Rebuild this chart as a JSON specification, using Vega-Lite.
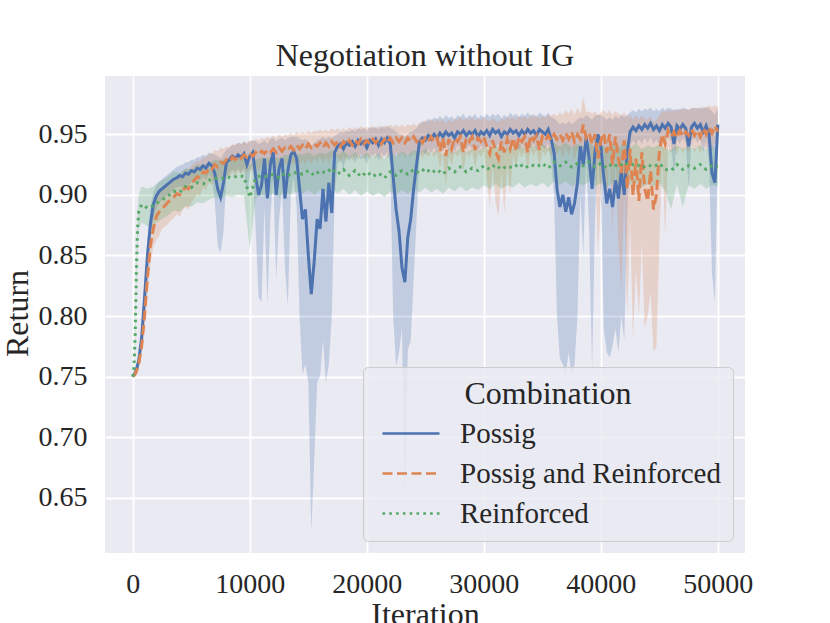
{
  "$schema": "https://vega.github.io/schema/vega-lite/v6.json",
  "width": 640,
  "height": 477,
  "autosize": {"type": "none"},
  "padding": {"left": 105, "top": 76, "right": 85, "bottom": 70},
  "background": "white",
  "title": {
    "text": "Negotiation without IG",
    "font": "Liberation Serif",
    "fontSize": 32,
    "fontWeight": "normal",
    "color": "#262626",
    "offset": 3
  },
  "data": {
    "values": [
      {"c":"Possig","x":0,"y":0.750,"lo":0.749,"hi":0.751},
      {"c":"Possig","x":250,"y":0.754,"lo":0.751,"hi":0.757},
      {"c":"Possig","x":500,"y":0.763,"lo":0.758,"hi":0.768},
      {"c":"Possig","x":750,"y":0.782,"lo":0.775,"hi":0.790},
      {"c":"Possig","x":1000,"y":0.815,"lo":0.805,"hi":0.826},
      {"c":"Possig","x":1250,"y":0.850,"lo":0.838,"hi":0.862},
      {"c":"Possig","x":1500,"y":0.876,"lo":0.865,"hi":0.888},
      {"c":"Possig","x":1750,"y":0.892,"lo":0.880,"hi":0.902},
      {"c":"Possig","x":2000,"y":0.899,"lo":0.888,"hi":0.908},
      {"c":"Possig","x":2250,"y":0.903,"lo":0.893,"hi":0.911},
      {"c":"Possig","x":2500,"y":0.905,"lo":0.896,"hi":0.913},
      {"c":"Possig","x":2750,"y":0.907,"lo":0.898,"hi":0.915},
      {"c":"Possig","x":3000,"y":0.909,"lo":0.900,"hi":0.917},
      {"c":"Possig","x":3250,"y":0.911,"lo":0.902,"hi":0.919},
      {"c":"Possig","x":3500,"y":0.913,"lo":0.905,"hi":0.921},
      {"c":"Possig","x":3750,"y":0.914,"lo":0.906,"hi":0.923},
      {"c":"Possig","x":4000,"y":0.916,"lo":0.907,"hi":0.924},
      {"c":"Possig","x":4250,"y":0.915,"lo":0.906,"hi":0.925},
      {"c":"Possig","x":4500,"y":0.918,"lo":0.909,"hi":0.927},
      {"c":"Possig","x":4750,"y":0.917,"lo":0.908,"hi":0.927},
      {"c":"Possig","x":5000,"y":0.920,"lo":0.911,"hi":0.929},
      {"c":"Possig","x":5250,"y":0.919,"lo":0.910,"hi":0.929},
      {"c":"Possig","x":5500,"y":0.922,"lo":0.913,"hi":0.931},
      {"c":"Possig","x":5750,"y":0.921,"lo":0.911,"hi":0.931},
      {"c":"Possig","x":6000,"y":0.924,"lo":0.915,"hi":0.933},
      {"c":"Possig","x":6250,"y":0.922,"lo":0.912,"hi":0.932},
      {"c":"Possig","x":6500,"y":0.926,"lo":0.917,"hi":0.935},
      {"c":"Possig","x":6750,"y":0.924,"lo":0.914,"hi":0.934},
      {"c":"Possig","x":7000,"y":0.918,"lo":0.895,"hi":0.933},
      {"c":"Possig","x":7250,"y":0.905,"lo":0.858,"hi":0.932},
      {"c":"Possig","x":7500,"y":0.898,"lo":0.852,"hi":0.930},
      {"c":"Possig","x":7750,"y":0.910,"lo":0.870,"hi":0.934},
      {"c":"Possig","x":8000,"y":0.927,"lo":0.915,"hi":0.937},
      {"c":"Possig","x":8250,"y":0.929,"lo":0.918,"hi":0.939},
      {"c":"Possig","x":8500,"y":0.932,"lo":0.921,"hi":0.941},
      {"c":"Possig","x":8750,"y":0.930,"lo":0.919,"hi":0.941},
      {"c":"Possig","x":9000,"y":0.933,"lo":0.922,"hi":0.943},
      {"c":"Possig","x":9250,"y":0.931,"lo":0.918,"hi":0.942},
      {"c":"Possig","x":9500,"y":0.934,"lo":0.922,"hi":0.944},
      {"c":"Possig","x":9750,"y":0.925,"lo":0.900,"hi":0.942},
      {"c":"Possig","x":10000,"y":0.932,"lo":0.918,"hi":0.944},
      {"c":"Possig","x":10250,"y":0.935,"lo":0.924,"hi":0.945},
      {"c":"Possig","x":10500,"y":0.915,"lo":0.870,"hi":0.944},
      {"c":"Possig","x":10750,"y":0.900,"lo":0.815,"hi":0.942},
      {"c":"Possig","x":11000,"y":0.908,"lo":0.812,"hi":0.943},
      {"c":"Possig","x":11250,"y":0.930,"lo":0.890,"hi":0.945},
      {"c":"Possig","x":11500,"y":0.897,"lo":0.810,"hi":0.942},
      {"c":"Possig","x":11750,"y":0.925,"lo":0.880,"hi":0.946},
      {"c":"Possig","x":12000,"y":0.935,"lo":0.915,"hi":0.947},
      {"c":"Possig","x":12250,"y":0.900,"lo":0.830,"hi":0.944},
      {"c":"Possig","x":12500,"y":0.922,"lo":0.880,"hi":0.946},
      {"c":"Possig","x":12750,"y":0.930,"lo":0.905,"hi":0.947},
      {"c":"Possig","x":13000,"y":0.897,"lo":0.840,"hi":0.945},
      {"c":"Possig","x":13250,"y":0.920,"lo":0.808,"hi":0.947},
      {"c":"Possig","x":13500,"y":0.933,"lo":0.900,"hi":0.948},
      {"c":"Possig","x":13750,"y":0.936,"lo":0.915,"hi":0.948},
      {"c":"Possig","x":14000,"y":0.930,"lo":0.890,"hi":0.948},
      {"c":"Possig","x":14250,"y":0.905,"lo":0.800,"hi":0.946},
      {"c":"Possig","x":14500,"y":0.880,"lo":0.752,"hi":0.945},
      {"c":"Possig","x":14750,"y":0.888,"lo":0.760,"hi":0.946},
      {"c":"Possig","x":15000,"y":0.850,"lo":0.745,"hi":0.944},
      {"c":"Possig","x":15250,"y":0.818,"lo":0.622,"hi":0.940},
      {"c":"Possig","x":15500,"y":0.845,"lo":0.680,"hi":0.943},
      {"c":"Possig","x":15750,"y":0.880,"lo":0.745,"hi":0.945},
      {"c":"Possig","x":16000,"y":0.872,"lo":0.750,"hi":0.946},
      {"c":"Possig","x":16250,"y":0.905,"lo":0.780,"hi":0.948},
      {"c":"Possig","x":16500,"y":0.878,"lo":0.745,"hi":0.946},
      {"c":"Possig","x":16750,"y":0.910,"lo":0.760,"hi":0.948},
      {"c":"Possig","x":17000,"y":0.885,"lo":0.800,"hi":0.947},
      {"c":"Possig","x":17250,"y":0.935,"lo":0.900,"hi":0.949},
      {"c":"Possig","x":17500,"y":0.940,"lo":0.925,"hi":0.950},
      {"c":"Possig","x":17750,"y":0.942,"lo":0.930,"hi":0.952},
      {"c":"Possig","x":18000,"y":0.938,"lo":0.922,"hi":0.951},
      {"c":"Possig","x":18250,"y":0.943,"lo":0.932,"hi":0.953},
      {"c":"Possig","x":18500,"y":0.941,"lo":0.928,"hi":0.952},
      {"c":"Possig","x":18750,"y":0.944,"lo":0.933,"hi":0.954},
      {"c":"Possig","x":19000,"y":0.940,"lo":0.926,"hi":0.952},
      {"c":"Possig","x":19250,"y":0.945,"lo":0.934,"hi":0.955},
      {"c":"Possig","x":19500,"y":0.942,"lo":0.929,"hi":0.954},
      {"c":"Possig","x":19750,"y":0.944,"lo":0.932,"hi":0.955},
      {"c":"Possig","x":20000,"y":0.939,"lo":0.925,"hi":0.953},
      {"c":"Possig","x":20250,"y":0.945,"lo":0.934,"hi":0.956},
      {"c":"Possig","x":20500,"y":0.943,"lo":0.931,"hi":0.955},
      {"c":"Possig","x":20750,"y":0.946,"lo":0.935,"hi":0.956},
      {"c":"Possig","x":21000,"y":0.941,"lo":0.928,"hi":0.954},
      {"c":"Possig","x":21250,"y":0.946,"lo":0.935,"hi":0.957},
      {"c":"Possig","x":21500,"y":0.943,"lo":0.931,"hi":0.955},
      {"c":"Possig","x":21750,"y":0.947,"lo":0.936,"hi":0.957},
      {"c":"Possig","x":22000,"y":0.942,"lo":0.925,"hi":0.955},
      {"c":"Possig","x":22250,"y":0.915,"lo":0.800,"hi":0.954},
      {"c":"Possig","x":22500,"y":0.888,"lo":0.758,"hi":0.952},
      {"c":"Possig","x":22750,"y":0.870,"lo":0.770,"hi":0.950},
      {"c":"Possig","x":23000,"y":0.840,"lo":0.790,"hi":0.950},
      {"c":"Possig","x":23250,"y":0.828,"lo":0.646,"hi":0.948},
      {"c":"Possig","x":23500,"y":0.865,"lo":0.772,"hi":0.950},
      {"c":"Possig","x":23750,"y":0.880,"lo":0.780,"hi":0.952},
      {"c":"Possig","x":24000,"y":0.905,"lo":0.830,"hi":0.953},
      {"c":"Possig","x":24250,"y":0.925,"lo":0.880,"hi":0.955},
      {"c":"Possig","x":24500,"y":0.944,"lo":0.933,"hi":0.958},
      {"c":"Possig","x":24750,"y":0.947,"lo":0.936,"hi":0.961},
      {"c":"Possig","x":25000,"y":0.945,"lo":0.933,"hi":0.960},
      {"c":"Possig","x":25250,"y":0.949,"lo":0.938,"hi":0.963},
      {"c":"Possig","x":25500,"y":0.946,"lo":0.934,"hi":0.961},
      {"c":"Possig","x":25750,"y":0.950,"lo":0.939,"hi":0.964},
      {"c":"Possig","x":26000,"y":0.947,"lo":0.935,"hi":0.962},
      {"c":"Possig","x":26250,"y":0.951,"lo":0.940,"hi":0.965},
      {"c":"Possig","x":26500,"y":0.948,"lo":0.936,"hi":0.962},
      {"c":"Possig","x":26750,"y":0.952,"lo":0.941,"hi":0.966},
      {"c":"Possig","x":27000,"y":0.949,"lo":0.937,"hi":0.963},
      {"c":"Possig","x":27250,"y":0.951,"lo":0.940,"hi":0.965},
      {"c":"Possig","x":27500,"y":0.947,"lo":0.935,"hi":0.962},
      {"c":"Possig","x":27750,"y":0.952,"lo":0.941,"hi":0.966},
      {"c":"Possig","x":28000,"y":0.950,"lo":0.938,"hi":0.964},
      {"c":"Possig","x":28250,"y":0.953,"lo":0.942,"hi":0.967},
      {"c":"Possig","x":28500,"y":0.949,"lo":0.937,"hi":0.963},
      {"c":"Possig","x":28750,"y":0.952,"lo":0.941,"hi":0.966},
      {"c":"Possig","x":29000,"y":0.950,"lo":0.938,"hi":0.964},
      {"c":"Possig","x":29250,"y":0.953,"lo":0.942,"hi":0.967},
      {"c":"Possig","x":29500,"y":0.948,"lo":0.936,"hi":0.963},
      {"c":"Possig","x":29750,"y":0.952,"lo":0.941,"hi":0.966},
      {"c":"Possig","x":30000,"y":0.950,"lo":0.938,"hi":0.964},
      {"c":"Possig","x":30250,"y":0.953,"lo":0.942,"hi":0.967},
      {"c":"Possig","x":30500,"y":0.949,"lo":0.937,"hi":0.964},
      {"c":"Possig","x":30750,"y":0.954,"lo":0.943,"hi":0.967},
      {"c":"Possig","x":31000,"y":0.951,"lo":0.939,"hi":0.965},
      {"c":"Possig","x":31250,"y":0.953,"lo":0.942,"hi":0.967},
      {"c":"Possig","x":31500,"y":0.948,"lo":0.936,"hi":0.963},
      {"c":"Possig","x":31750,"y":0.952,"lo":0.941,"hi":0.966},
      {"c":"Possig","x":32000,"y":0.950,"lo":0.938,"hi":0.964},
      {"c":"Possig","x":32250,"y":0.954,"lo":0.943,"hi":0.968},
      {"c":"Possig","x":32500,"y":0.951,"lo":0.939,"hi":0.965},
      {"c":"Possig","x":32750,"y":0.953,"lo":0.942,"hi":0.967},
      {"c":"Possig","x":33000,"y":0.949,"lo":0.937,"hi":0.964},
      {"c":"Possig","x":33250,"y":0.953,"lo":0.942,"hi":0.967},
      {"c":"Possig","x":33500,"y":0.950,"lo":0.938,"hi":0.965},
      {"c":"Possig","x":33750,"y":0.954,"lo":0.943,"hi":0.968},
      {"c":"Possig","x":34000,"y":0.951,"lo":0.939,"hi":0.965},
      {"c":"Possig","x":34250,"y":0.953,"lo":0.942,"hi":0.967},
      {"c":"Possig","x":34500,"y":0.949,"lo":0.937,"hi":0.964},
      {"c":"Possig","x":34750,"y":0.954,"lo":0.943,"hi":0.968},
      {"c":"Possig","x":35000,"y":0.952,"lo":0.940,"hi":0.966},
      {"c":"Possig","x":35250,"y":0.950,"lo":0.938,"hi":0.965},
      {"c":"Possig","x":35500,"y":0.954,"lo":0.943,"hi":0.968},
      {"c":"Possig","x":35750,"y":0.946,"lo":0.928,"hi":0.964},
      {"c":"Possig","x":36000,"y":0.935,"lo":0.900,"hi":0.963},
      {"c":"Possig","x":36250,"y":0.905,"lo":0.800,"hi":0.961},
      {"c":"Possig","x":36500,"y":0.890,"lo":0.765,"hi":0.958},
      {"c":"Possig","x":36750,"y":0.900,"lo":0.760,"hi":0.960},
      {"c":"Possig","x":37000,"y":0.886,"lo":0.752,"hi":0.958},
      {"c":"Possig","x":37250,"y":0.898,"lo":0.770,"hi":0.961},
      {"c":"Possig","x":37500,"y":0.884,"lo":0.750,"hi":0.958},
      {"c":"Possig","x":37750,"y":0.893,"lo":0.760,"hi":0.960},
      {"c":"Possig","x":38000,"y":0.910,"lo":0.800,"hi":0.962},
      {"c":"Possig","x":38250,"y":0.940,"lo":0.900,"hi":0.964},
      {"c":"Possig","x":38500,"y":0.925,"lo":0.850,"hi":0.963},
      {"c":"Possig","x":38750,"y":0.948,"lo":0.930,"hi":0.966},
      {"c":"Possig","x":39000,"y":0.930,"lo":0.870,"hi":0.964},
      {"c":"Possig","x":39250,"y":0.905,"lo":0.755,"hi":0.962},
      {"c":"Possig","x":39500,"y":0.935,"lo":0.880,"hi":0.965},
      {"c":"Possig","x":39750,"y":0.950,"lo":0.935,"hi":0.966},
      {"c":"Possig","x":40000,"y":0.940,"lo":0.900,"hi":0.966},
      {"c":"Possig","x":40250,"y":0.915,"lo":0.790,"hi":0.964},
      {"c":"Possig","x":40500,"y":0.893,"lo":0.770,"hi":0.962},
      {"c":"Possig","x":40750,"y":0.905,"lo":0.766,"hi":0.964},
      {"c":"Possig","x":41000,"y":0.890,"lo":0.775,"hi":0.962},
      {"c":"Possig","x":41250,"y":0.912,"lo":0.790,"hi":0.965},
      {"c":"Possig","x":41500,"y":0.897,"lo":0.770,"hi":0.963},
      {"c":"Possig","x":41750,"y":0.920,"lo":0.800,"hi":0.966},
      {"c":"Possig","x":42000,"y":0.900,"lo":0.780,"hi":0.964},
      {"c":"Possig","x":42250,"y":0.935,"lo":0.880,"hi":0.966},
      {"c":"Possig","x":42500,"y":0.952,"lo":0.940,"hi":0.968},
      {"c":"Possig","x":42750,"y":0.956,"lo":0.945,"hi":0.970},
      {"c":"Possig","x":43000,"y":0.953,"lo":0.941,"hi":0.968},
      {"c":"Possig","x":43250,"y":0.957,"lo":0.946,"hi":0.971},
      {"c":"Possig","x":43500,"y":0.954,"lo":0.942,"hi":0.969},
      {"c":"Possig","x":43750,"y":0.958,"lo":0.947,"hi":0.971},
      {"c":"Possig","x":44000,"y":0.955,"lo":0.943,"hi":0.970},
      {"c":"Possig","x":44250,"y":0.959,"lo":0.948,"hi":0.972},
      {"c":"Possig","x":44500,"y":0.954,"lo":0.942,"hi":0.969},
      {"c":"Possig","x":44750,"y":0.957,"lo":0.946,"hi":0.971},
      {"c":"Possig","x":45000,"y":0.953,"lo":0.941,"hi":0.969},
      {"c":"Possig","x":45250,"y":0.958,"lo":0.947,"hi":0.972},
      {"c":"Possig","x":45500,"y":0.955,"lo":0.943,"hi":0.970},
      {"c":"Possig","x":45750,"y":0.959,"lo":0.948,"hi":0.972},
      {"c":"Possig","x":46000,"y":0.956,"lo":0.944,"hi":0.971},
      {"c":"Possig","x":46250,"y":0.942,"lo":0.915,"hi":0.970},
      {"c":"Possig","x":46500,"y":0.957,"lo":0.946,"hi":0.971},
      {"c":"Possig","x":46750,"y":0.954,"lo":0.942,"hi":0.970},
      {"c":"Possig","x":47000,"y":0.958,"lo":0.947,"hi":0.972},
      {"c":"Possig","x":47250,"y":0.955,"lo":0.943,"hi":0.971},
      {"c":"Possig","x":47500,"y":0.940,"lo":0.905,"hi":0.970},
      {"c":"Possig","x":47750,"y":0.956,"lo":0.944,"hi":0.971},
      {"c":"Possig","x":48000,"y":0.959,"lo":0.948,"hi":0.972},
      {"c":"Possig","x":48250,"y":0.955,"lo":0.943,"hi":0.971},
      {"c":"Possig","x":48500,"y":0.958,"lo":0.947,"hi":0.972},
      {"c":"Possig","x":48750,"y":0.952,"lo":0.935,"hi":0.971},
      {"c":"Possig","x":49000,"y":0.957,"lo":0.945,"hi":0.972},
      {"c":"Possig","x":49250,"y":0.950,"lo":0.925,"hi":0.971},
      {"c":"Possig","x":49500,"y":0.918,"lo":0.835,"hi":0.969},
      {"c":"Possig","x":49750,"y":0.910,"lo":0.811,"hi":0.966},
      {"c":"Possig","x":50000,"y":0.958,"lo":0.945,"hi":0.972},

      {"c":"Possig and Reinforced","x":0,"y":0.750,"lo":0.749,"hi":0.751},
      {"c":"Possig and Reinforced","x":250,"y":0.753,"lo":0.750,"hi":0.756},
      {"c":"Possig and Reinforced","x":500,"y":0.760,"lo":0.755,"hi":0.765},
      {"c":"Possig and Reinforced","x":750,"y":0.775,"lo":0.768,"hi":0.783},
      {"c":"Possig and Reinforced","x":1000,"y":0.800,"lo":0.790,"hi":0.812},
      {"c":"Possig and Reinforced","x":1250,"y":0.832,"lo":0.818,"hi":0.846},
      {"c":"Possig and Reinforced","x":1500,"y":0.858,"lo":0.843,"hi":0.872},
      {"c":"Possig and Reinforced","x":1750,"y":0.872,"lo":0.857,"hi":0.886},
      {"c":"Possig and Reinforced","x":2000,"y":0.882,"lo":0.863,"hi":0.897},
      {"c":"Possig and Reinforced","x":2250,"y":0.886,"lo":0.866,"hi":0.902},
      {"c":"Possig and Reinforced","x":2500,"y":0.889,"lo":0.872,"hi":0.904},
      {"c":"Possig and Reinforced","x":2750,"y":0.891,"lo":0.874,"hi":0.906},
      {"c":"Possig and Reinforced","x":3000,"y":0.894,"lo":0.876,"hi":0.909},
      {"c":"Possig and Reinforced","x":3250,"y":0.896,"lo":0.879,"hi":0.911},
      {"c":"Possig and Reinforced","x":3500,"y":0.898,"lo":0.881,"hi":0.913},
      {"c":"Possig and Reinforced","x":3750,"y":0.901,"lo":0.884,"hi":0.916},
      {"c":"Possig and Reinforced","x":4000,"y":0.900,"lo":0.882,"hi":0.916},
      {"c":"Possig and Reinforced","x":4250,"y":0.904,"lo":0.887,"hi":0.919},
      {"c":"Possig and Reinforced","x":4500,"y":0.906,"lo":0.890,"hi":0.921},
      {"c":"Possig and Reinforced","x":4750,"y":0.905,"lo":0.888,"hi":0.921},
      {"c":"Possig and Reinforced","x":5000,"y":0.910,"lo":0.894,"hi":0.924},
      {"c":"Possig and Reinforced","x":5250,"y":0.912,"lo":0.897,"hi":0.926},
      {"c":"Possig and Reinforced","x":5500,"y":0.915,"lo":0.901,"hi":0.928},
      {"c":"Possig and Reinforced","x":5750,"y":0.914,"lo":0.899,"hi":0.928},
      {"c":"Possig and Reinforced","x":6000,"y":0.919,"lo":0.906,"hi":0.931},
      {"c":"Possig and Reinforced","x":6250,"y":0.918,"lo":0.904,"hi":0.931},
      {"c":"Possig and Reinforced","x":6500,"y":0.922,"lo":0.910,"hi":0.934},
      {"c":"Possig and Reinforced","x":6750,"y":0.921,"lo":0.908,"hi":0.934},
      {"c":"Possig and Reinforced","x":7000,"y":0.925,"lo":0.913,"hi":0.937},
      {"c":"Possig and Reinforced","x":7250,"y":0.923,"lo":0.910,"hi":0.936},
      {"c":"Possig and Reinforced","x":7500,"y":0.927,"lo":0.915,"hi":0.939},
      {"c":"Possig and Reinforced","x":7750,"y":0.926,"lo":0.913,"hi":0.938},
      {"c":"Possig and Reinforced","x":8000,"y":0.929,"lo":0.917,"hi":0.940},
      {"c":"Possig and Reinforced","x":8250,"y":0.927,"lo":0.914,"hi":0.939},
      {"c":"Possig and Reinforced","x":8500,"y":0.931,"lo":0.919,"hi":0.942},
      {"c":"Possig and Reinforced","x":8750,"y":0.929,"lo":0.916,"hi":0.941},
      {"c":"Possig and Reinforced","x":9000,"y":0.932,"lo":0.920,"hi":0.943},
      {"c":"Possig and Reinforced","x":9250,"y":0.930,"lo":0.917,"hi":0.942},
      {"c":"Possig and Reinforced","x":9500,"y":0.933,"lo":0.921,"hi":0.944},
      {"c":"Possig and Reinforced","x":9750,"y":0.931,"lo":0.918,"hi":0.943},
      {"c":"Possig and Reinforced","x":10000,"y":0.934,"lo":0.922,"hi":0.945},
      {"c":"Possig and Reinforced","x":10250,"y":0.932,"lo":0.919,"hi":0.944},
      {"c":"Possig and Reinforced","x":10500,"y":0.935,"lo":0.923,"hi":0.946},
      {"c":"Possig and Reinforced","x":10750,"y":0.933,"lo":0.920,"hi":0.945},
      {"c":"Possig and Reinforced","x":11000,"y":0.936,"lo":0.924,"hi":0.947},
      {"c":"Possig and Reinforced","x":11250,"y":0.934,"lo":0.921,"hi":0.946},
      {"c":"Possig and Reinforced","x":11500,"y":0.937,"lo":0.925,"hi":0.948},
      {"c":"Possig and Reinforced","x":11750,"y":0.935,"lo":0.922,"hi":0.947},
      {"c":"Possig and Reinforced","x":12000,"y":0.938,"lo":0.926,"hi":0.949},
      {"c":"Possig and Reinforced","x":12250,"y":0.935,"lo":0.922,"hi":0.947},
      {"c":"Possig and Reinforced","x":12500,"y":0.939,"lo":0.927,"hi":0.950},
      {"c":"Possig and Reinforced","x":12750,"y":0.936,"lo":0.923,"hi":0.948},
      {"c":"Possig and Reinforced","x":13000,"y":0.939,"lo":0.927,"hi":0.950},
      {"c":"Possig and Reinforced","x":13250,"y":0.937,"lo":0.924,"hi":0.949},
      {"c":"Possig and Reinforced","x":13500,"y":0.940,"lo":0.928,"hi":0.951},
      {"c":"Possig and Reinforced","x":13750,"y":0.937,"lo":0.924,"hi":0.949},
      {"c":"Possig and Reinforced","x":14000,"y":0.941,"lo":0.929,"hi":0.952},
      {"c":"Possig and Reinforced","x":14250,"y":0.938,"lo":0.925,"hi":0.950},
      {"c":"Possig and Reinforced","x":14500,"y":0.941,"lo":0.929,"hi":0.952},
      {"c":"Possig and Reinforced","x":14750,"y":0.938,"lo":0.925,"hi":0.950},
      {"c":"Possig and Reinforced","x":15000,"y":0.942,"lo":0.930,"hi":0.953},
      {"c":"Possig and Reinforced","x":15250,"y":0.939,"lo":0.926,"hi":0.951},
      {"c":"Possig and Reinforced","x":15500,"y":0.942,"lo":0.930,"hi":0.953},
      {"c":"Possig and Reinforced","x":15750,"y":0.940,"lo":0.927,"hi":0.952},
      {"c":"Possig and Reinforced","x":16000,"y":0.943,"lo":0.931,"hi":0.954},
      {"c":"Possig and Reinforced","x":16250,"y":0.939,"lo":0.926,"hi":0.952},
      {"c":"Possig and Reinforced","x":16500,"y":0.943,"lo":0.931,"hi":0.954},
      {"c":"Possig and Reinforced","x":16750,"y":0.940,"lo":0.927,"hi":0.952},
      {"c":"Possig and Reinforced","x":17000,"y":0.944,"lo":0.932,"hi":0.955},
      {"c":"Possig and Reinforced","x":17250,"y":0.941,"lo":0.928,"hi":0.953},
      {"c":"Possig and Reinforced","x":17500,"y":0.944,"lo":0.932,"hi":0.955},
      {"c":"Possig and Reinforced","x":17750,"y":0.940,"lo":0.926,"hi":0.953},
      {"c":"Possig and Reinforced","x":18000,"y":0.944,"lo":0.932,"hi":0.955},
      {"c":"Possig and Reinforced","x":18250,"y":0.941,"lo":0.928,"hi":0.953},
      {"c":"Possig and Reinforced","x":18500,"y":0.945,"lo":0.933,"hi":0.956},
      {"c":"Possig and Reinforced","x":18750,"y":0.941,"lo":0.928,"hi":0.954},
      {"c":"Possig and Reinforced","x":19000,"y":0.945,"lo":0.933,"hi":0.956},
      {"c":"Possig and Reinforced","x":19250,"y":0.942,"lo":0.929,"hi":0.954},
      {"c":"Possig and Reinforced","x":19500,"y":0.946,"lo":0.934,"hi":0.957},
      {"c":"Possig and Reinforced","x":19750,"y":0.942,"lo":0.929,"hi":0.955},
      {"c":"Possig and Reinforced","x":20000,"y":0.945,"lo":0.933,"hi":0.956},
      {"c":"Possig and Reinforced","x":20250,"y":0.942,"lo":0.929,"hi":0.955},
      {"c":"Possig and Reinforced","x":20500,"y":0.946,"lo":0.934,"hi":0.957},
      {"c":"Possig and Reinforced","x":20750,"y":0.943,"lo":0.930,"hi":0.955},
      {"c":"Possig and Reinforced","x":21000,"y":0.946,"lo":0.934,"hi":0.957},
      {"c":"Possig and Reinforced","x":21250,"y":0.942,"lo":0.929,"hi":0.955},
      {"c":"Possig and Reinforced","x":21500,"y":0.946,"lo":0.934,"hi":0.957},
      {"c":"Possig and Reinforced","x":21750,"y":0.943,"lo":0.930,"hi":0.956},
      {"c":"Possig and Reinforced","x":22000,"y":0.947,"lo":0.935,"hi":0.958},
      {"c":"Possig and Reinforced","x":22250,"y":0.943,"lo":0.930,"hi":0.956},
      {"c":"Possig and Reinforced","x":22500,"y":0.947,"lo":0.935,"hi":0.958},
      {"c":"Possig and Reinforced","x":22750,"y":0.944,"lo":0.931,"hi":0.956},
      {"c":"Possig and Reinforced","x":23000,"y":0.947,"lo":0.935,"hi":0.958},
      {"c":"Possig and Reinforced","x":23250,"y":0.943,"lo":0.930,"hi":0.956},
      {"c":"Possig and Reinforced","x":23500,"y":0.947,"lo":0.935,"hi":0.958},
      {"c":"Possig and Reinforced","x":23750,"y":0.944,"lo":0.931,"hi":0.957},
      {"c":"Possig and Reinforced","x":24000,"y":0.948,"lo":0.936,"hi":0.959},
      {"c":"Possig and Reinforced","x":24250,"y":0.944,"lo":0.931,"hi":0.957},
      {"c":"Possig and Reinforced","x":24500,"y":0.947,"lo":0.935,"hi":0.960},
      {"c":"Possig and Reinforced","x":24750,"y":0.943,"lo":0.930,"hi":0.959},
      {"c":"Possig and Reinforced","x":25000,"y":0.947,"lo":0.935,"hi":0.962},
      {"c":"Possig and Reinforced","x":25250,"y":0.944,"lo":0.931,"hi":0.960},
      {"c":"Possig and Reinforced","x":25500,"y":0.948,"lo":0.936,"hi":0.963},
      {"c":"Possig and Reinforced","x":25750,"y":0.944,"lo":0.931,"hi":0.960},
      {"c":"Possig and Reinforced","x":26000,"y":0.947,"lo":0.935,"hi":0.963},
      {"c":"Possig and Reinforced","x":26250,"y":0.936,"lo":0.922,"hi":0.960},
      {"c":"Possig and Reinforced","x":26500,"y":0.947,"lo":0.935,"hi":0.963},
      {"c":"Possig and Reinforced","x":26750,"y":0.932,"lo":0.907,"hi":0.959},
      {"c":"Possig and Reinforced","x":27000,"y":0.946,"lo":0.932,"hi":0.962},
      {"c":"Possig and Reinforced","x":27250,"y":0.938,"lo":0.924,"hi":0.960},
      {"c":"Possig and Reinforced","x":27500,"y":0.947,"lo":0.935,"hi":0.963},
      {"c":"Possig and Reinforced","x":27750,"y":0.944,"lo":0.931,"hi":0.962},
      {"c":"Possig and Reinforced","x":28000,"y":0.948,"lo":0.936,"hi":0.964},
      {"c":"Possig and Reinforced","x":28250,"y":0.935,"lo":0.920,"hi":0.961},
      {"c":"Possig and Reinforced","x":28500,"y":0.947,"lo":0.935,"hi":0.963},
      {"c":"Possig and Reinforced","x":28750,"y":0.944,"lo":0.931,"hi":0.962},
      {"c":"Possig and Reinforced","x":29000,"y":0.948,"lo":0.936,"hi":0.964},
      {"c":"Possig and Reinforced","x":29250,"y":0.937,"lo":0.922,"hi":0.961},
      {"c":"Possig and Reinforced","x":29500,"y":0.947,"lo":0.935,"hi":0.963},
      {"c":"Possig and Reinforced","x":29750,"y":0.944,"lo":0.931,"hi":0.962},
      {"c":"Possig and Reinforced","x":30000,"y":0.948,"lo":0.936,"hi":0.964},
      {"c":"Possig and Reinforced","x":30250,"y":0.940,"lo":0.915,"hi":0.962},
      {"c":"Possig and Reinforced","x":30500,"y":0.934,"lo":0.890,"hi":0.961},
      {"c":"Possig and Reinforced","x":30750,"y":0.945,"lo":0.925,"hi":0.963},
      {"c":"Possig and Reinforced","x":31000,"y":0.936,"lo":0.895,"hi":0.962},
      {"c":"Possig and Reinforced","x":31250,"y":0.930,"lo":0.882,"hi":0.960},
      {"c":"Possig and Reinforced","x":31500,"y":0.944,"lo":0.920,"hi":0.963},
      {"c":"Possig and Reinforced","x":31750,"y":0.935,"lo":0.885,"hi":0.962},
      {"c":"Possig and Reinforced","x":32000,"y":0.946,"lo":0.925,"hi":0.964},
      {"c":"Possig and Reinforced","x":32250,"y":0.938,"lo":0.900,"hi":0.963},
      {"c":"Possig and Reinforced","x":32500,"y":0.947,"lo":0.934,"hi":0.964},
      {"c":"Possig and Reinforced","x":32750,"y":0.936,"lo":0.922,"hi":0.962},
      {"c":"Possig and Reinforced","x":33000,"y":0.948,"lo":0.936,"hi":0.965},
      {"c":"Possig and Reinforced","x":33250,"y":0.944,"lo":0.931,"hi":0.963},
      {"c":"Possig and Reinforced","x":33500,"y":0.948,"lo":0.936,"hi":0.965},
      {"c":"Possig and Reinforced","x":33750,"y":0.935,"lo":0.920,"hi":0.962},
      {"c":"Possig and Reinforced","x":34000,"y":0.949,"lo":0.937,"hi":0.966},
      {"c":"Possig and Reinforced","x":34250,"y":0.945,"lo":0.932,"hi":0.964},
      {"c":"Possig and Reinforced","x":34500,"y":0.949,"lo":0.937,"hi":0.966},
      {"c":"Possig and Reinforced","x":34750,"y":0.937,"lo":0.922,"hi":0.963},
      {"c":"Possig and Reinforced","x":35000,"y":0.948,"lo":0.936,"hi":0.965},
      {"c":"Possig and Reinforced","x":35250,"y":0.945,"lo":0.932,"hi":0.964},
      {"c":"Possig and Reinforced","x":35500,"y":0.949,"lo":0.937,"hi":0.966},
      {"c":"Possig and Reinforced","x":35750,"y":0.945,"lo":0.932,"hi":0.965},
      {"c":"Possig and Reinforced","x":36000,"y":0.950,"lo":0.938,"hi":0.967},
      {"c":"Possig and Reinforced","x":36250,"y":0.946,"lo":0.933,"hi":0.965},
      {"c":"Possig and Reinforced","x":36500,"y":0.950,"lo":0.938,"hi":0.968},
      {"c":"Possig and Reinforced","x":36750,"y":0.945,"lo":0.930,"hi":0.966},
      {"c":"Possig and Reinforced","x":37000,"y":0.951,"lo":0.939,"hi":0.970},
      {"c":"Possig and Reinforced","x":37250,"y":0.946,"lo":0.932,"hi":0.967},
      {"c":"Possig and Reinforced","x":37500,"y":0.952,"lo":0.940,"hi":0.971},
      {"c":"Possig and Reinforced","x":37750,"y":0.944,"lo":0.928,"hi":0.966},
      {"c":"Possig and Reinforced","x":38000,"y":0.950,"lo":0.938,"hi":0.972},
      {"c":"Possig and Reinforced","x":38250,"y":0.946,"lo":0.933,"hi":0.967},
      {"c":"Possig and Reinforced","x":38500,"y":0.958,"lo":0.940,"hi":0.981},
      {"c":"Possig and Reinforced","x":38750,"y":0.947,"lo":0.934,"hi":0.968},
      {"c":"Possig and Reinforced","x":39000,"y":0.951,"lo":0.939,"hi":0.969},
      {"c":"Possig and Reinforced","x":39250,"y":0.942,"lo":0.925,"hi":0.967},
      {"c":"Possig and Reinforced","x":39500,"y":0.950,"lo":0.937,"hi":0.969},
      {"c":"Possig and Reinforced","x":39750,"y":0.930,"lo":0.850,"hi":0.966},
      {"c":"Possig and Reinforced","x":40000,"y":0.945,"lo":0.900,"hi":0.968},
      {"c":"Possig and Reinforced","x":40250,"y":0.951,"lo":0.938,"hi":0.970},
      {"c":"Possig and Reinforced","x":40500,"y":0.935,"lo":0.890,"hi":0.967},
      {"c":"Possig and Reinforced","x":40750,"y":0.950,"lo":0.936,"hi":0.970},
      {"c":"Possig and Reinforced","x":41000,"y":0.925,"lo":0.870,"hi":0.966},
      {"c":"Possig and Reinforced","x":41250,"y":0.948,"lo":0.933,"hi":0.969},
      {"c":"Possig and Reinforced","x":41500,"y":0.930,"lo":0.860,"hi":0.967},
      {"c":"Possig and Reinforced","x":41750,"y":0.918,"lo":0.820,"hi":0.966},
      {"c":"Possig and Reinforced","x":42000,"y":0.945,"lo":0.900,"hi":0.968},
      {"c":"Possig and Reinforced","x":42250,"y":0.905,"lo":0.800,"hi":0.964},
      {"c":"Possig and Reinforced","x":42500,"y":0.938,"lo":0.880,"hi":0.966},
      {"c":"Possig and Reinforced","x":42750,"y":0.900,"lo":0.780,"hi":0.962},
      {"c":"Possig and Reinforced","x":43000,"y":0.930,"lo":0.840,"hi":0.966},
      {"c":"Possig and Reinforced","x":43250,"y":0.895,"lo":0.800,"hi":0.962},
      {"c":"Possig and Reinforced","x":43500,"y":0.935,"lo":0.860,"hi":0.966},
      {"c":"Possig and Reinforced","x":43750,"y":0.905,"lo":0.790,"hi":0.963},
      {"c":"Possig and Reinforced","x":44000,"y":0.895,"lo":0.800,"hi":0.962},
      {"c":"Possig and Reinforced","x":44250,"y":0.920,"lo":0.820,"hi":0.965},
      {"c":"Possig and Reinforced","x":44500,"y":0.888,"lo":0.770,"hi":0.960},
      {"c":"Possig and Reinforced","x":44750,"y":0.900,"lo":0.775,"hi":0.962},
      {"c":"Possig and Reinforced","x":45000,"y":0.935,"lo":0.860,"hi":0.966},
      {"c":"Possig and Reinforced","x":45250,"y":0.950,"lo":0.935,"hi":0.969},
      {"c":"Possig and Reinforced","x":45500,"y":0.942,"lo":0.865,"hi":0.968},
      {"c":"Possig and Reinforced","x":45750,"y":0.953,"lo":0.940,"hi":0.970},
      {"c":"Possig and Reinforced","x":46000,"y":0.948,"lo":0.934,"hi":0.969},
      {"c":"Possig and Reinforced","x":46250,"y":0.952,"lo":0.939,"hi":0.970},
      {"c":"Possig and Reinforced","x":46500,"y":0.947,"lo":0.933,"hi":0.969},
      {"c":"Possig and Reinforced","x":46750,"y":0.953,"lo":0.940,"hi":0.971},
      {"c":"Possig and Reinforced","x":47000,"y":0.948,"lo":0.934,"hi":0.970},
      {"c":"Possig and Reinforced","x":47250,"y":0.952,"lo":0.939,"hi":0.971},
      {"c":"Possig and Reinforced","x":47500,"y":0.949,"lo":0.935,"hi":0.970},
      {"c":"Possig and Reinforced","x":47750,"y":0.954,"lo":0.941,"hi":0.972},
      {"c":"Possig and Reinforced","x":48000,"y":0.949,"lo":0.935,"hi":0.971},
      {"c":"Possig and Reinforced","x":48250,"y":0.953,"lo":0.940,"hi":0.972},
      {"c":"Possig and Reinforced","x":48500,"y":0.948,"lo":0.934,"hi":0.971},
      {"c":"Possig and Reinforced","x":48750,"y":0.955,"lo":0.942,"hi":0.973},
      {"c":"Possig and Reinforced","x":49000,"y":0.950,"lo":0.936,"hi":0.972},
      {"c":"Possig and Reinforced","x":49250,"y":0.956,"lo":0.943,"hi":0.974},
      {"c":"Possig and Reinforced","x":49500,"y":0.951,"lo":0.937,"hi":0.972},
      {"c":"Possig and Reinforced","x":49750,"y":0.957,"lo":0.944,"hi":0.974},
      {"c":"Possig and Reinforced","x":50000,"y":0.952,"lo":0.938,"hi":0.972},

      {"c":"Reinforced","x":0,"y":0.750,"lo":0.749,"hi":0.751},
      {"c":"Reinforced","x":100,"y":0.758,"lo":0.754,"hi":0.762},
      {"c":"Reinforced","x":200,"y":0.785,"lo":0.775,"hi":0.795},
      {"c":"Reinforced","x":300,"y":0.835,"lo":0.820,"hi":0.850},
      {"c":"Reinforced","x":400,"y":0.872,"lo":0.858,"hi":0.886},
      {"c":"Reinforced","x":500,"y":0.886,"lo":0.872,"hi":0.900},
      {"c":"Reinforced","x":750,"y":0.892,"lo":0.877,"hi":0.907},
      {"c":"Reinforced","x":1000,"y":0.891,"lo":0.876,"hi":0.906},
      {"c":"Reinforced","x":1250,"y":0.889,"lo":0.874,"hi":0.905},
      {"c":"Reinforced","x":1500,"y":0.890,"lo":0.874,"hi":0.906},
      {"c":"Reinforced","x":1750,"y":0.891,"lo":0.875,"hi":0.907},
      {"c":"Reinforced","x":2000,"y":0.893,"lo":0.877,"hi":0.909},
      {"c":"Reinforced","x":2500,"y":0.896,"lo":0.880,"hi":0.912},
      {"c":"Reinforced","x":3000,"y":0.899,"lo":0.883,"hi":0.915},
      {"c":"Reinforced","x":3500,"y":0.903,"lo":0.887,"hi":0.919},
      {"c":"Reinforced","x":4000,"y":0.902,"lo":0.886,"hi":0.918},
      {"c":"Reinforced","x":4500,"y":0.907,"lo":0.891,"hi":0.922},
      {"c":"Reinforced","x":5000,"y":0.906,"lo":0.890,"hi":0.921},
      {"c":"Reinforced","x":5500,"y":0.910,"lo":0.894,"hi":0.925},
      {"c":"Reinforced","x":6000,"y":0.909,"lo":0.893,"hi":0.924},
      {"c":"Reinforced","x":6500,"y":0.912,"lo":0.896,"hi":0.927},
      {"c":"Reinforced","x":7000,"y":0.914,"lo":0.898,"hi":0.929},
      {"c":"Reinforced","x":7500,"y":0.913,"lo":0.897,"hi":0.928},
      {"c":"Reinforced","x":8000,"y":0.915,"lo":0.899,"hi":0.930},
      {"c":"Reinforced","x":8500,"y":0.914,"lo":0.898,"hi":0.929},
      {"c":"Reinforced","x":9000,"y":0.916,"lo":0.900,"hi":0.931},
      {"c":"Reinforced","x":9500,"y":0.915,"lo":0.899,"hi":0.930},
      {"c":"Reinforced","x":10000,"y":0.898,"lo":0.855,"hi":0.925},
      {"c":"Reinforced","x":10500,"y":0.914,"lo":0.897,"hi":0.929},
      {"c":"Reinforced","x":11000,"y":0.916,"lo":0.900,"hi":0.931},
      {"c":"Reinforced","x":11500,"y":0.915,"lo":0.899,"hi":0.930},
      {"c":"Reinforced","x":12000,"y":0.917,"lo":0.901,"hi":0.932},
      {"c":"Reinforced","x":12500,"y":0.914,"lo":0.898,"hi":0.930},
      {"c":"Reinforced","x":13000,"y":0.918,"lo":0.902,"hi":0.933},
      {"c":"Reinforced","x":13500,"y":0.916,"lo":0.900,"hi":0.932},
      {"c":"Reinforced","x":14000,"y":0.919,"lo":0.903,"hi":0.934},
      {"c":"Reinforced","x":14500,"y":0.917,"lo":0.901,"hi":0.933},
      {"c":"Reinforced","x":15000,"y":0.920,"lo":0.904,"hi":0.935},
      {"c":"Reinforced","x":15500,"y":0.916,"lo":0.900,"hi":0.932},
      {"c":"Reinforced","x":16000,"y":0.920,"lo":0.904,"hi":0.935},
      {"c":"Reinforced","x":16500,"y":0.918,"lo":0.902,"hi":0.934},
      {"c":"Reinforced","x":17000,"y":0.922,"lo":0.906,"hi":0.937},
      {"c":"Reinforced","x":17500,"y":0.917,"lo":0.901,"hi":0.933},
      {"c":"Reinforced","x":18000,"y":0.921,"lo":0.905,"hi":0.936},
      {"c":"Reinforced","x":18500,"y":0.916,"lo":0.900,"hi":0.932},
      {"c":"Reinforced","x":19000,"y":0.920,"lo":0.904,"hi":0.935},
      {"c":"Reinforced","x":19500,"y":0.915,"lo":0.899,"hi":0.931},
      {"c":"Reinforced","x":20000,"y":0.919,"lo":0.903,"hi":0.935},
      {"c":"Reinforced","x":20500,"y":0.915,"lo":0.899,"hi":0.931},
      {"c":"Reinforced","x":21000,"y":0.918,"lo":0.902,"hi":0.934},
      {"c":"Reinforced","x":21500,"y":0.914,"lo":0.898,"hi":0.930},
      {"c":"Reinforced","x":22000,"y":0.919,"lo":0.903,"hi":0.935},
      {"c":"Reinforced","x":22500,"y":0.916,"lo":0.900,"hi":0.932},
      {"c":"Reinforced","x":23000,"y":0.920,"lo":0.904,"hi":0.936},
      {"c":"Reinforced","x":23500,"y":0.917,"lo":0.901,"hi":0.933},
      {"c":"Reinforced","x":24000,"y":0.921,"lo":0.905,"hi":0.937},
      {"c":"Reinforced","x":24500,"y":0.918,"lo":0.902,"hi":0.934},
      {"c":"Reinforced","x":25000,"y":0.922,"lo":0.906,"hi":0.938},
      {"c":"Reinforced","x":25500,"y":0.918,"lo":0.902,"hi":0.934},
      {"c":"Reinforced","x":26000,"y":0.921,"lo":0.905,"hi":0.937},
      {"c":"Reinforced","x":26500,"y":0.917,"lo":0.901,"hi":0.933},
      {"c":"Reinforced","x":27000,"y":0.922,"lo":0.906,"hi":0.938},
      {"c":"Reinforced","x":27500,"y":0.919,"lo":0.903,"hi":0.935},
      {"c":"Reinforced","x":28000,"y":0.923,"lo":0.907,"hi":0.939},
      {"c":"Reinforced","x":28500,"y":0.919,"lo":0.903,"hi":0.935},
      {"c":"Reinforced","x":29000,"y":0.922,"lo":0.906,"hi":0.938},
      {"c":"Reinforced","x":29500,"y":0.920,"lo":0.904,"hi":0.936},
      {"c":"Reinforced","x":30000,"y":0.924,"lo":0.908,"hi":0.940},
      {"c":"Reinforced","x":30500,"y":0.921,"lo":0.905,"hi":0.937},
      {"c":"Reinforced","x":31000,"y":0.925,"lo":0.909,"hi":0.941},
      {"c":"Reinforced","x":31500,"y":0.921,"lo":0.905,"hi":0.937},
      {"c":"Reinforced","x":32000,"y":0.924,"lo":0.908,"hi":0.940},
      {"c":"Reinforced","x":32500,"y":0.922,"lo":0.906,"hi":0.938},
      {"c":"Reinforced","x":33000,"y":0.926,"lo":0.910,"hi":0.942},
      {"c":"Reinforced","x":33500,"y":0.922,"lo":0.906,"hi":0.938},
      {"c":"Reinforced","x":34000,"y":0.925,"lo":0.909,"hi":0.941},
      {"c":"Reinforced","x":34500,"y":0.923,"lo":0.907,"hi":0.939},
      {"c":"Reinforced","x":35000,"y":0.926,"lo":0.910,"hi":0.942},
      {"c":"Reinforced","x":35500,"y":0.922,"lo":0.906,"hi":0.938},
      {"c":"Reinforced","x":36000,"y":0.927,"lo":0.911,"hi":0.943},
      {"c":"Reinforced","x":36500,"y":0.924,"lo":0.908,"hi":0.940},
      {"c":"Reinforced","x":37000,"y":0.927,"lo":0.911,"hi":0.943},
      {"c":"Reinforced","x":37500,"y":0.923,"lo":0.907,"hi":0.939},
      {"c":"Reinforced","x":38000,"y":0.926,"lo":0.910,"hi":0.942},
      {"c":"Reinforced","x":38500,"y":0.924,"lo":0.908,"hi":0.940},
      {"c":"Reinforced","x":39000,"y":0.927,"lo":0.911,"hi":0.943},
      {"c":"Reinforced","x":39500,"y":0.923,"lo":0.907,"hi":0.939},
      {"c":"Reinforced","x":40000,"y":0.926,"lo":0.910,"hi":0.942},
      {"c":"Reinforced","x":40500,"y":0.922,"lo":0.906,"hi":0.938},
      {"c":"Reinforced","x":41000,"y":0.926,"lo":0.910,"hi":0.942},
      {"c":"Reinforced","x":41500,"y":0.923,"lo":0.907,"hi":0.939},
      {"c":"Reinforced","x":42000,"y":0.927,"lo":0.911,"hi":0.943},
      {"c":"Reinforced","x":42500,"y":0.924,"lo":0.908,"hi":0.940},
      {"c":"Reinforced","x":43000,"y":0.926,"lo":0.910,"hi":0.942},
      {"c":"Reinforced","x":43500,"y":0.922,"lo":0.906,"hi":0.938},
      {"c":"Reinforced","x":44000,"y":0.925,"lo":0.909,"hi":0.941},
      {"c":"Reinforced","x":44500,"y":0.923,"lo":0.907,"hi":0.939},
      {"c":"Reinforced","x":45000,"y":0.926,"lo":0.910,"hi":0.942},
      {"c":"Reinforced","x":45500,"y":0.921,"lo":0.903,"hi":0.938},
      {"c":"Reinforced","x":46000,"y":0.920,"lo":0.888,"hi":0.937},
      {"c":"Reinforced","x":46500,"y":0.925,"lo":0.909,"hi":0.941},
      {"c":"Reinforced","x":47000,"y":0.921,"lo":0.890,"hi":0.938},
      {"c":"Reinforced","x":47500,"y":0.924,"lo":0.908,"hi":0.940},
      {"c":"Reinforced","x":48000,"y":0.922,"lo":0.905,"hi":0.938},
      {"c":"Reinforced","x":48500,"y":0.925,"lo":0.909,"hi":0.941},
      {"c":"Reinforced","x":49000,"y":0.921,"lo":0.905,"hi":0.937},
      {"c":"Reinforced","x":49500,"y":0.924,"lo":0.908,"hi":0.940},
      {"c":"Reinforced","x":50000,"y":0.923,"lo":0.907,"hi":0.939}
    ]
  },
  "layer": [
    {
      "mark": {"type": "area", "opacity": 0.25, "clip": true, "interpolate": "linear"},
      "encoding": {
        "x": {"field": "x", "type": "quantitative"},
        "y": {"field": "lo", "type": "quantitative"},
        "y2": {"field": "hi"},
        "fill": {
          "field": "c",
          "type": "nominal",
          "scale": {"range": ["#4C72B0", "#DD8452", "#55A868"]},
          "legend": null
        }
      }
    },
    {
      "mark": {"type": "line", "strokeWidth": 3, "clip": true},
      "encoding": {
        "x": {
          "field": "x",
          "type": "quantitative",
          "title": "Iteration",
          "scale": {"domain": [-2380, 52320], "nice": false, "zero": false},
          "axis": {"values": [0, 10000, 20000, 30000, 40000, 50000], "format": "d", "titleX": 320, "titleY": 71, "titleBaseline": "alphabetic", "labelPadding": 17}
        },
        "y": {
          "field": "y",
          "type": "quantitative",
          "title": "Return",
          "scale": {"domain": [0.6044, 0.9981], "nice": false, "zero": false},
          "axis": {"values": [0.65, 0.7, 0.75, 0.8, 0.85, 0.9, 0.95], "format": ".2f", "titleX": -78, "titleY": 237, "titleAngle": -90, "titleBaseline": "alphabetic", "titleAlign": "center", "labelPadding": 18}
        },
        "color": {
          "field": "c",
          "type": "nominal",
          "title": "Combination",
          "scale": {"domain": ["Possig", "Possig and Reinforced", "Reinforced"], "range": ["#4C72B0", "#DD8452", "#55A868"]},
          "legend": {
            "orient": "bottom-right",
            "offset": 12,
            "titleAnchor": "middle",
            "titlePadding": 8,
            "padding": 12,
            "rowPadding": 10,
            "labelOffset": 56,
            "labelLimit": 500,
            "labelFontSize": 29,
            "symbolType": "M-1,0H7.14",
            "symbolSize": 196,
            "symbolStrokeWidth": 2.6,
            "fillColor": "rgba(234,234,242,0.8)",
            "strokeColor": "#cccccc",
            "cornerRadius": 5
          }
        },
        "strokeDash": {
          "field": "c",
          "type": "nominal",
          "title": "Combination",
          "scale": {"domain": ["Possig", "Possig and Reinforced", "Reinforced"], "range": [[1, 0], [10, 4.5], [2.6, 4.2]]}
        }
      }
    }
  ],
  "config": {
    "font": "Liberation Serif",
    "view": {"fill": "#EAEAF2", "stroke": null},
    "axis": {
      "grid": true,
      "gridColor": "white",
      "gridWidth": 1.8,
      "domain": false,
      "ticks": false,
      "tickSize": 0,
      "labelFont": "Liberation Serif",
      "labelFontSize": 28,
      "labelColor": "#262626",
      "titleFont": "Liberation Serif",
      "titleFontSize": 32,
      "titleFontWeight": "normal",
      "titleColor": "#262626"
    },
    "legend": {
      "titleFont": "Liberation Serif",
      "titleFontSize": 32,
      "titleFontWeight": "normal",
      "titleColor": "#262626",
      "labelFont": "Liberation Serif",
      "labelFontSize": 29,
      "labelColor": "#262626"
    }
  }
}
